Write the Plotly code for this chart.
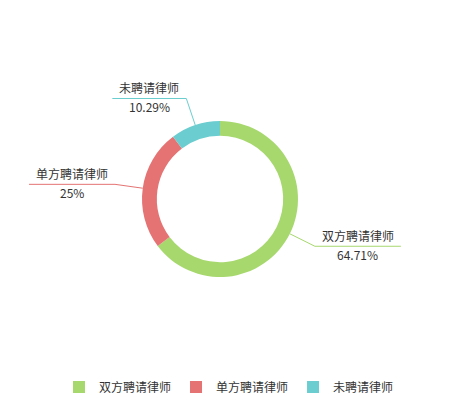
import math
import plotly.graph_objects as go

labels = ['双方聘请律师', '单方聘请律师', '未聘请律师']
values = [64.71, 25, 10.29]
pct_text = ['64.71%', '25%', '10.29%']
colors = ['#a7d86e', '#e57373', '#6bcdcf']

# the page body keeps its 8px default margin, so draw in a 450x392 figure
off = 8
W, H = 458 - off, 400 - off
cx, cy, r = 220 - off, 199 - off, 78   # pie centre / outer radius in px
len1 = 28                               # first leader segment
font = 'Noto Sans CJK SC'

fig = go.Figure(go.Pie(
    labels=labels, values=values,
    marker=dict(colors=colors, line=dict(width=0)),
    hole=0.81, sort=False, direction='clockwise', rotation=0,
    textinfo='none', hoverinfo='label+percent',
    domain=dict(x=[(cx - r) / W, (cx + r) / W],
                y=[1 - (cy + r) / H, 1 - (cy - r) / H]),
))

def px(x, y):
    return x / W, 1 - y / H

shapes = []
annots = []
total = sum(values)
start = 0
for lab, v, pct, col in zip(labels, values, pct_text, colors):
    mid = (start + v / 2) / total * 2 * math.pi
    start += v
    dx, dy = math.sin(mid), -math.cos(mid)
    x0, y0 = cx + r * dx, cy + r * dy
    x1, y1 = cx + (r + len1) * dx, cy + (r + len1) * dy
    seg = len(lab) * 12 + 14
    x2 = x1 + seg if dx > 0 else x1 - seg
    p0, p1, p2 = px(x0, y0), px(x1, y1), px(x2, y1)
    shapes.append(dict(type='path', xref='paper', yref='paper',
                       path=f'M {p0[0]} {p0[1]} L {p1[0]} {p1[1]} L {p2[0]} {p2[1]}',
                       line=dict(color=col, width=1)))
    xm = (x1 + x2) / 2 / W
    annots.append(dict(x=xm, y=p1[1], xref='paper', yref='paper', text=lab,
                       showarrow=False, xanchor='center', yanchor='bottom', yshift=0,
                       font=dict(size=12, color='#333', family=font)))
    annots.append(dict(x=xm, y=p1[1], xref='paper', yref='paper', text=pct,
                       showarrow=False, xanchor='center', yanchor='top', yshift=2,
                       font=dict(size=12, color='#333', family=font)))

fig.update_layout(
    width=W, height=H, margin=dict(l=0, r=0, t=0, b=0, autoexpand=False),
    paper_bgcolor='white', plot_bgcolor='white',
    font=dict(family=font, size=12, color='#333'),
    shapes=shapes, annotations=annots,
    showlegend=True,
    legend=dict(orientation='h', x=(229 - off) / W, xanchor='center',
                y=1 - (387 - off) / H, yanchor='middle',
                font=dict(size=12, color='#333', family=font), itemwidth=30),
)

fig.write_html("out.html")
